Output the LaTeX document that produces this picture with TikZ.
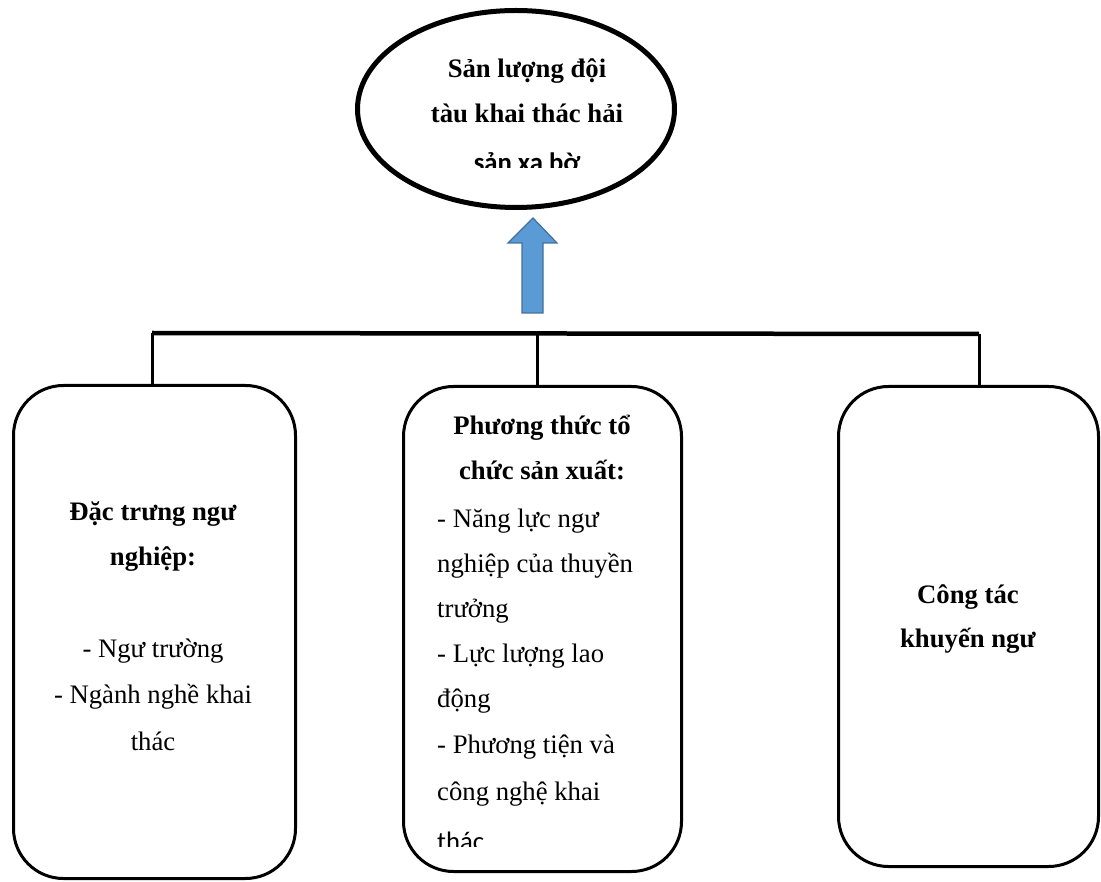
\documentclass[tikz,border=0pt]{standalone}
\usepackage{fontspec}
\setmainfont{Liberation Serif}
\newfontfamily\calib{Carlito}
\usetikzlibrary{shapes.geometric}
\definecolor{arrfill}{HTML}{5B9BD5}
\definecolor{arrline}{HTML}{41719C}
\tikzset{
  txt/.style={inner sep=0pt, anchor=base, font=\fontsize{26.7}{32}\selectfont},
  txtl/.style={inner sep=0pt, anchor=base west, font=\fontsize{26.7}{32}\selectfont},
  bx/.style={draw, line width=3pt, rounded corners=50pt, inner sep=0pt},
  conn/.style={line width=3pt},
}
\begin{document}
\begin{tikzpicture}[x=1pt,y=-1pt]
\useasboundingbox (0,0) rectangle (1101,882);
% top ellipse
\node[ellipse, draw, line width=5pt, inner sep=0pt, minimum width=317pt, minimum height=197pt] (top) at (516,109) {};
\node[txt] (t1) at (527,78) {\textbf{Sản lượng đội}};
\node[txt] (t2) at (527,123) {\textbf{tàu khai thác hải}};
\begin{scope}
\clip (400,130) rectangle (650,168);
\node[txt] (t3) at (527,172) {\calib\bfseries sản xa bờ};
\end{scope}
% arrow
\draw[fill=arrfill, draw=arrline, line width=1.2pt] (522,313) -- (522,243) -- (508,243) -- (533,218) -- (557,243) -- (543,243) -- (543,313) -- cycle;
% boxes
\node[bx, minimum width=282pt, minimum height=493pt] (bL) at (154.5,632) {};
\node[bx, minimum width=278pt, minimum height=485pt] (bM) at (542.5,629) {};
\node[bx, minimum width=260pt, minimum height=480pt] (bR) at (968.5,626.5) {};
% connectors
\coordinate (hL) at (152,333);
\coordinate (hM) at (537,333);
\coordinate (hR) at (979,334);
\draw[line width=4.5pt] (hL) -- (hR);
\draw[conn] (hL) -- (hL |- bL.north);
\draw[conn] (hM) -- (hM |- bM.north);
\draw[conn] (hR) -- (hR |- bR.north);
% left box text
\node[txt] (l1) at (153,520) {\textbf{Đặc trưng ngư}};
\node[txt] (l2) at (153,565) {\textbf{nghiệp:}};
\node[txt] (l3) at (153,657) {- Ngư trường};
\node[txt] (l4) at (153,703) {- Ngành nghề khai};
\node[txt] (l5) at (153,750) {thác};
% middle box text
\node[txt] (m1) at (542,435) {\textbf{Phương thức tổ}};
\node[txt] (m2) at (542,480) {\textbf{chức sản xuất:}};
\node[txtl] (m3) at (437,527) {- Năng lực ngư};
\node[txtl] (m4) at (437,572) {nghiệp của thuyền};
\node[txtl] (m5) at (437,617) {trưởng};
\node[txtl] (m6) at (437,662) {- Lực lượng lao};
\node[txtl] (m7) at (437,707) {động};
\node[txtl] (m8) at (437,753) {- Phương tiện và};
\node[txtl] (m9) at (437,800) {công nghệ khai};
\begin{scope}
\clip (430,810) rectangle (600,846);
\node[txtl] (m10) at (437,850) {\calib thác};
\end{scope}
% right box text
\node[txt] (r1) at (968,603) {\textbf{Công tác}};
\node[txt] (r2) at (968,647) {\textbf{khuyến ngư}};
\end{tikzpicture}
\end{document}
